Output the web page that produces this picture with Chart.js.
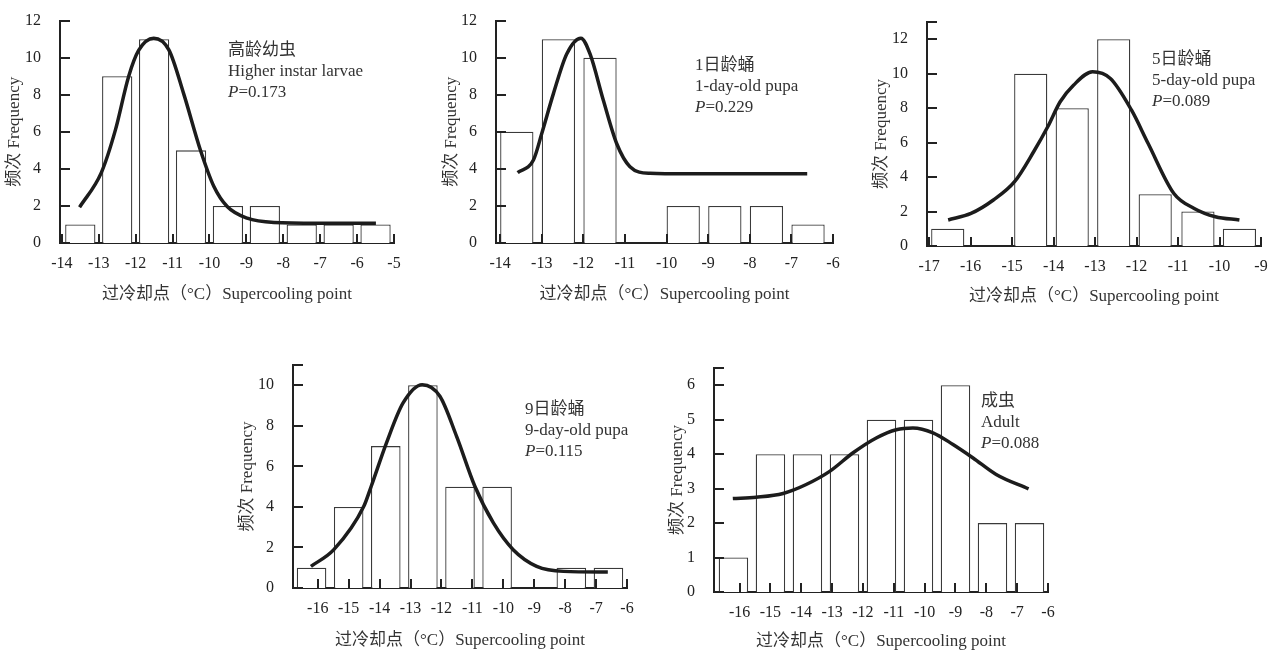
<!DOCTYPE html>
<html>
<head>
<meta charset="utf-8">
<script src="https://cdn.jsdelivr.net/npm/chart.js@4.4.0/dist/chart.umd.min.js"></script>
<style>
  body { margin: 0; background: #fff; }
  #page { position: relative; width: 1275px; height: 652px; overflow: hidden; background: #fff; }
  #page canvas { position: absolute; }
</style>
</head>
<body>
<div id="page">
  <canvas id="larvaeChart"></canvas>
  <canvas id="pupa1Chart"></canvas>
  <canvas id="pupa5Chart"></canvas>
  <canvas id="pupa9Chart"></canvas>
  <canvas id="adultChart"></canvas>
</div>
<script>
// ---- data ----
// Higher instar larvae
const larvaeBins = [-13.5, -12.5, -11.5, -10.5, -9.5, -8.5, -7.5, -6.5, -5.5];
const larvaeCounts = [1, 9, 11, 5, 2, 2, 1, 1, 1];
const larvaeCurveX = [-13.52, -12.93, -12.55, -12.19, -11.92, -11.51, -11.10, -10.70, -10.24, -9.88, -9.52, -8.98, -8.25, -7.08, -5.49];
const larvaeCurveY = [1.93, 3.80, 6.09, 8.99, 10.39, 11.05, 10.42, 8.06, 4.98, 3.05, 1.97, 1.34, 1.11, 1.07, 1.07];
const larvaeXTicks = [-14, -13, -12, -11, -10, -9, -8, -7, -6, -5];
const larvaeYTicks = [0, 2, 4, 6, 8, 10, 12];

// 1-day-old pupa
const pupa1Bins = [-13.6, -12.6, -11.6, -9.6, -8.6, -7.6, -6.6];
const pupa1Counts = [6, 11, 10, 2, 2, 2, 1];
const pupa1CurveX = [-13.58, -13.2, -13.0, -12.72, -12.4, -12.06, -11.84, -11.52, -11.2, -10.88, -10.4, -9.52, -6.62];
const pupa1CurveY = [3.80, 4.48, 5.91, 8.06, 10.2, 11.05, 10.2, 7.7, 5.37, 4.12, 3.76, 3.73, 3.73];
const pupa1XTicks = [-14, -13, -12, -11, -10, -9, -8, -7, -6];
const pupa1YTicks = [0, 2, 4, 6, 8, 10, 12];

// 5-day-old pupa
const pupa5Bins = [-16.55, -14.55, -13.55, -12.55, -11.55, -10.52, -9.52];
const pupa5Counts = [1, 10, 8, 12, 3, 2, 1];
const pupa5CurveX = [-16.54, -15.99, -15.45, -14.94, -14.48, -14.14, -13.84, -13.52, -13.06, -12.63, -12.12, -11.72, -11.10, -10.61, -10.10, -9.52];
const pupa5CurveY = [1.51, 1.89, 2.67, 3.73, 5.47, 6.92, 8.37, 9.33, 10.11, 9.72, 7.88, 5.95, 3.05, 2.18, 1.70, 1.51];
const pupa5XTicks = [-17, -16, -15, -14, -13, -12, -11, -10, -9];
const pupa5YTicks = [0, 2, 4, 6, 8, 10, 12];

// 9-day-old pupa
const pupa9Bins = [-16.2, -15.0, -13.8, -12.6, -11.4, -10.2, -7.8, -6.6];
const pupa9Counts = [1, 4, 7, 10, 5, 5, 1, 1];
const pupa9CurveX = [-16.22, -15.48, -14.51, -14.27, -13.78, -13.24, -12.62, -12.05, -11.51, -10.92, -10.32, -9.68, -8.92, -8.05, -6.62];
const pupa9CurveY = [1.07, 1.89, 4.03, 5.02, 7.15, 9.13, 10.03, 9.46, 7.48, 5.02, 3.21, 1.89, 1.07, 0.82, 0.79];
const pupa9XTicks = [-16, -15, -14, -13, -12, -11, -10, -9, -8, -7, -6];
const pupa9YTicks = [0, 2, 4, 6, 8, 10];

// Adult
const adultBins = [-16.2, -15.0, -13.8, -12.6, -11.4, -10.2, -9.0, -7.8, -6.6];
const adultCounts = [1, 4, 4, 4, 5, 5, 6, 2, 2];
const adultCurveX = [-16.22, -15.46, -14.59, -13.84, -13.08, -12.32, -11.57, -10.92, -10.38, -9.73, -9.08, -8.43, -7.68, -6.63];
const adultCurveY = [2.71, 2.75, 2.86, 3.12, 3.50, 4.04, 4.47, 4.71, 4.76, 4.62, 4.28, 3.89, 3.41, 2.99];
const adultXTicks = [-16, -15, -14, -13, -12, -11, -10, -9, -8, -7, -6];
const adultYTicks = [0, 1, 2, 3, 4, 5, 6];

const FONT = '"Liberation Serif", "Noto Sans CJK SC", serif';
const X_TITLE = '过冷却点（°C）Supercooling point';
const Y_TITLE = '频次 Frequency';

// Inward pointing tick marks, as in the printed figure
const inwardTicks = {
    id: 'inwardTicks',
    afterDatasetsDraw(chart) {
        const { ctx, scales: { x, y } } = chart;
        ctx.save();
        ctx.strokeStyle = '#222';
        ctx.lineWidth = 2;
        ctx.beginPath();
        x.ticks.forEach(t => {
            const px = Math.round(x.getPixelForValue(t.value));
            ctx.moveTo(px, y.bottom);
            ctx.lineTo(px, y.bottom - 9);
        });
        y.ticks.map(t => t.value).concat([y.max]).forEach(v => {
            const py = Math.round(y.getPixelForValue(v));
            ctx.moveTo(x.left, py);
            ctx.lineTo(x.left + 10, py);
        });
        ctx.stroke();
        ctx.restore();
    }
};

// Stage label and P value in the upper right of each panel
const panelNote = {
    id: 'panelNote',
    afterDraw(chart, args, opts) {
        if (!opts || !opts.lines) return;
        const ctx = chart.ctx;
        ctx.save();
        ctx.fillStyle = '#333';
        ctx.textBaseline = 'middle';
        ctx.textAlign = 'left';
        ctx.font = '17px ' + FONT;
        opts.lines.forEach((line, i) => ctx.fillText(line, opts.x, opts.y + i * 21));
        const py = opts.y + opts.lines.length * 21;
        ctx.font = 'italic 17px ' + FONT;
        ctx.fillText('P', opts.x, py);
        const w = ctx.measureText('P').width;
        ctx.font = '17px ' + FONT;
        ctx.fillText('=' + opts.p, opts.x + w, py);
        ctx.restore();
    }
};

function drawPanel(canvasId, p) {
    const canvas = document.getElementById(canvasId);
    canvas.width = p.width;
    canvas.height = p.height;
    canvas.style.left = p.left + 'px';
    canvas.style.top = p.top + 'px';

    const yWidth = p.axisX - p.left;
    const xHeight = p.top + p.height - p.axisY;

    new Chart(canvas, {
        type: 'bar',
        data: {
            datasets: [{
                type: 'line',
                data: p.curveX.map((x, i) => ({ x: x, y: p.curveY[i] })),
                borderColor: '#1c1c1c',
                borderWidth: 3.5,
                pointRadius: 0,
                fill: false,
                cubicInterpolationMode: 'monotone',
                order: 0
            }, {
                type: 'bar',
                data: p.bins.map((x, i) => ({ x: x, y: p.counts[i] })),
                backgroundColor: '#ffffff',
                borderColor: '#3a3a3a',
                borderWidth: 1.3,
                categoryPercentage: 1,
                barPercentage: p.barPct,
                order: 1
            }]
        },
        options: {
            responsive: false,
            animation: false,
            devicePixelRatio: 1,
            layout: {
                padding: { left: 0, bottom: 0, top: p.areaTop - p.top, right: p.left + p.width - p.axisRight }
            },
            plugins: {
                legend: { display: false },
                tooltip: { enabled: false },
                panelNote: { x: p.noteX, y: p.noteY, lines: p.lines, p: p.pValue }
            },
            scales: {
                x: {
                    type: 'linear',
                    min: p.xMin,
                    max: p.xMax,
                    offset: false,
                    grid: { display: false, offset: false },
                    border: { display: true, color: '#222', width: 2 },
                    ticks: { padding: 3, color: '#222', font: { family: FONT, size: 16 } },
                    afterBuildTicks: s => { s.ticks = p.xTicks.map(v => ({ value: v })); },
                    afterFit: s => { s.height = xHeight; },
                    title: {
                        display: true, text: X_TITLE, color: '#333',
                        font: { family: FONT, size: 17 },
                        padding: { top: 0, bottom: Math.max(0, p.top + p.height - p.xTitleY - 10.2) }
                    }
                },
                y: {
                    min: 0,
                    max: p.yMax,
                    grid: { display: false },
                    border: { display: true, color: '#222', width: 2 },
                    ticks: { padding: 11, color: '#222', font: { family: FONT, size: 16 } },
                    afterBuildTicks: s => { s.ticks = p.yTicks.map(v => ({ value: v })); },
                    afterFit: s => { s.width = yWidth; },
                    title: {
                        display: true, text: Y_TITLE, color: '#333',
                        font: { family: FONT, size: 17 },
                        padding: { top: p.yTitleX - p.left - 10.2, bottom: 0 }
                    }
                }
            }
        },
        plugins: [inwardTicks, panelNote]
    });
}

document.addEventListener('DOMContentLoaded', () => {
    drawPanel('larvaeChart', {
        left: 0, top: 0, width: 420, height: 310,
        axisX: 60, axisRight: 394, areaTop: 20, axisY: 243, yTitleX: 15, xTitleY: 295,
        xMin: -14.05, xMax: -5, yMax: 12, barPct: 0.82,
        bins: larvaeBins, counts: larvaeCounts, curveX: larvaeCurveX, curveY: larvaeCurveY,
        xTicks: larvaeXTicks, yTicks: larvaeYTicks,
        noteX: 228, noteY: 51, lines: ['高龄幼虫', 'Higher instar larvae'], pValue: '0.173'
    });
    drawPanel('pupa1Chart', {
        left: 437, top: 0, width: 413, height: 310,
        axisX: 496, axisRight: 833, areaTop: 20, axisY: 243, yTitleX: 452, xTitleY: 295,
        xMin: -14.1, xMax: -6, yMax: 12, barPct: 0.8,
        bins: pupa1Bins, counts: pupa1Counts, curveX: pupa1CurveX, curveY: pupa1CurveY,
        xTicks: pupa1XTicks, yTicks: pupa1YTicks,
        noteX: 258, noteY: 66, lines: ['1日龄蛹', '1-day-old pupa'], pValue: '0.229'
    });
    drawPanel('pupa5Chart', {
        left: 867, top: 0, width: 408, height: 310,
        axisX: 927, axisRight: 1261, areaTop: 22, axisY: 246, yTitleX: 882, xTitleY: 297,
        xMin: -17.05, xMax: -9, yMax: 13, barPct: 0.8,
        bins: pupa5Bins, counts: pupa5Counts, curveX: pupa5CurveX, curveY: pupa5CurveY,
        xTicks: pupa5XTicks, yTicks: pupa5YTicks,
        noteX: 285, noteY: 60, lines: ['5日龄蛹', '5-day-old pupa'], pValue: '0.089'
    });
    drawPanel('pupa9Chart', {
        left: 233, top: 320, width: 410, height: 332,
        axisX: 293, axisRight: 627, areaTop: 365, axisY: 588, yTitleX: 248, xTitleY: 641,
        xMin: -16.8, xMax: -6, yMax: 11, barPct: 0.956,
        bins: pupa9Bins, counts: pupa9Counts, curveX: pupa9CurveX, curveY: pupa9CurveY,
        xTicks: pupa9XTicks, yTicks: pupa9YTicks,
        noteX: 292, noteY: 90, lines: ['9日龄蛹', '9-day-old pupa'], pValue: '0.115'
    });
    drawPanel('adultChart', {
        left: 663, top: 320, width: 402, height: 332,
        axisX: 714, axisRight: 1048, areaTop: 368, axisY: 592, yTitleX: 678, xTitleY: 642,
        xMin: -16.83, xMax: -6, yMax: 6.5, barPct: 0.956,
        bins: adultBins, counts: adultCounts, curveX: adultCurveX, curveY: adultCurveY,
        xTicks: adultXTicks, yTicks: adultYTicks,
        noteX: 318, noteY: 82, lines: ['成虫', 'Adult'], pValue: '0.088'
    });
});
</script>
</body>
</html>
